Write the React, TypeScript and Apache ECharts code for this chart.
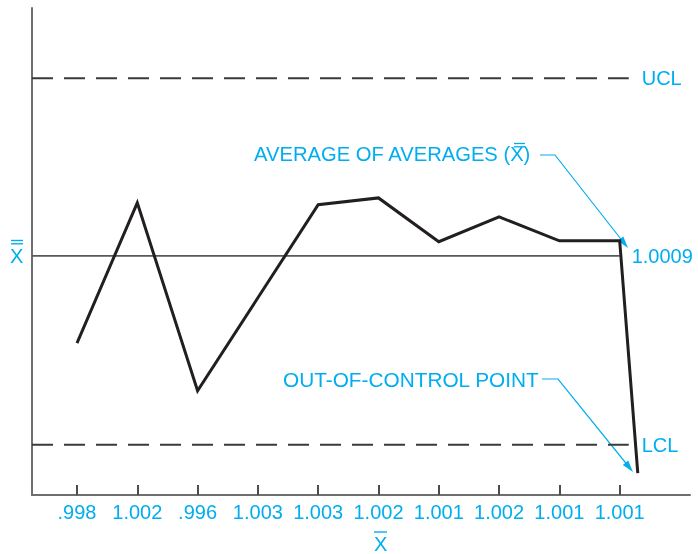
import React, { useEffect, useRef } from "react";
import * as echarts from "echarts";

// Tick labels (sample averages) along the horizontal axis
const categories = [".998", "1.002", ".996", "1.003", "1.003", "1.002", "1.001", "1.002", "1.001", "1.001"];
// Plotted sample positions (category index) and their chart heights
const sampleX = [0, 1, 2, 3, 4, 5, 6, 7, 8, 9, 9.3];
const sampleY = [31.2, 60.0, 21.4, 40.5, 59.6, 61.0, 52.0, 57.1, 52.2, 52.2, 4.5];
// Control limits
const UCL = 85.6;
const CENTER = 49.1;
const LCL = 10.3;
const centerLabel = "1.0009";
const xStart = -0.746;
const xEnd = 10.166;
const limitEnd = 9.15;
const centerEnd = 9.0;

const CYAN = "#00AEEF";
const FONT = "'Liberation Sans', Arial, Helvetica, sans-serif";

export default function App() {
  const ref = useRef<HTMLDivElement>(null);
  useEffect(() => {
    document.body.style.margin = "0";
    const chart = echarts.init(ref.current!, null, { renderer: "svg" });
    const endLabel = (text: string, distance: number) => ({
      show: true,
      formatter: text,
      color: CYAN,
      fontSize: 20,
      fontFamily: FONT,
      distance,
    });
    const tickIdx = categories.map((_, i) => i);
    chart.setOption({
      animation: false,
      grid: { left: 32, right: 8, top: 8, bottom: 59 },
      xAxis: {
        type: "value",
        min: xStart,
        max: xEnd,
        splitLine: { show: false },
        axisLine: { show: true, onZero: false, lineStyle: { color: "#6d6e71", width: 2 } },
        axisTick: {
          show: true,
          inside: true,
          length: 10,
          customValues: tickIdx,
          lineStyle: { color: "#4d4d4f", width: 2 },
        },
        axisLabel: {
          customValues: tickIdx,
          formatter: (v: number) => categories[Math.round(v)] ?? "",
          color: CYAN,
          fontSize: 20,
          fontFamily: FONT,
          margin: 7,
        },
      },
      yAxis: {
        type: "value",
        min: 0,
        max: 100,
        splitLine: { show: false },
        axisLine: { show: true, onZero: false, lineStyle: { color: "#6d6e71", width: 2 } },
        axisTick: { show: false },
        axisLabel: { show: false },
      },
      series: [
        {
          type: "line",
          data: [[xStart, UCL], [limitEnd, UCL]],
          symbol: "none",
          lineStyle: { color: "#3a3a3a", width: 2, type: [21, 11] },
          endLabel: endLabel("UCL", 13),
          silent: true,
        },
        {
          type: "line",
          data: [[xStart, LCL], [limitEnd, LCL]],
          symbol: "none",
          lineStyle: { color: "#3a3a3a", width: 2, type: [21, 11] },
          endLabel: endLabel("LCL", 13),
          silent: true,
        },
        {
          type: "line",
          data: [[xStart, CENTER], [centerEnd, CENTER]],
          symbol: "none",
          lineStyle: { color: "#58595b", width: 1.6 },
          endLabel: endLabel(centerLabel, 12),
          silent: true,
        },
        {
          type: "line",
          data: sampleX.map((x, i) => [x, sampleY[i]]),
          symbol: "none",
          lineStyle: { color: "#231f20", width: 3, join: "miter" },
          z: 5,
        },
      ],
      graphic: [
        // y-axis name: X double-bar
        { type: "text", x: 10, y: 256, style: { text: "X", fill: CYAN, fontSize: 20, fontFamily: FONT, verticalAlign: "middle" } },
        { type: "line", shape: { x1: 11, y1: 240.5, x2: 23, y2: 240.5 }, style: { stroke: CYAN, lineWidth: 1.4 } },
        { type: "line", shape: { x1: 11, y1: 243.8, x2: 23, y2: 243.8 }, style: { stroke: CYAN, lineWidth: 1.4 } },
        // x-axis name: X bar
        { type: "text", x: 374, y: 544, style: { text: "X", fill: CYAN, fontSize: 20, fontFamily: FONT, verticalAlign: "middle" } },
        { type: "line", shape: { x1: 374, y1: 532, x2: 387, y2: 532 }, style: { stroke: CYAN, lineWidth: 1.4 } },
        // annotation: average of averages
        { type: "text", x: 254, y: 154, style: { text: "AVERAGE OF AVERAGES (X)", fill: CYAN, fontSize: 20.2, fontFamily: FONT, verticalAlign: "middle" } },
        { type: "line", shape: { x1: 514, y1: 143.5, x2: 525, y2: 143.5 }, style: { stroke: CYAN, lineWidth: 1.3 } },
        { type: "line", shape: { x1: 514, y1: 146.8, x2: 525, y2: 146.8 }, style: { stroke: CYAN, lineWidth: 1.3 } },
        { type: "polyline", shape: { points: [[540, 155], [555, 155], [624, 243]] }, style: { stroke: CYAN, lineWidth: 1.2, fill: null } },
        { type: "polygon", shape: { points: [[628, 248], [617.8, 240.8], [623.3, 236.4]] }, style: { fill: CYAN } },
        // annotation: out-of-control point
        { type: "text", x: 283, y: 379, style: { text: "OUT-OF-CONTROL POINT", fill: CYAN, fontSize: 20.8, fontFamily: FONT, verticalAlign: "middle" } },
        { type: "polyline", shape: { points: [[542, 379], [558, 379], [629, 467]] }, style: { stroke: CYAN, lineWidth: 1.2, fill: null } },
        { type: "polygon", shape: { points: [[633, 472], [622.8, 464.9], [628.2, 460.5]] }, style: { fill: CYAN } },
      ],
    });
    return () => chart.dispose();
  }, []);
  return <div ref={ref} style={{ position: "fixed", left: 0, top: 0, width: 698, height: 554 }} />;
}
